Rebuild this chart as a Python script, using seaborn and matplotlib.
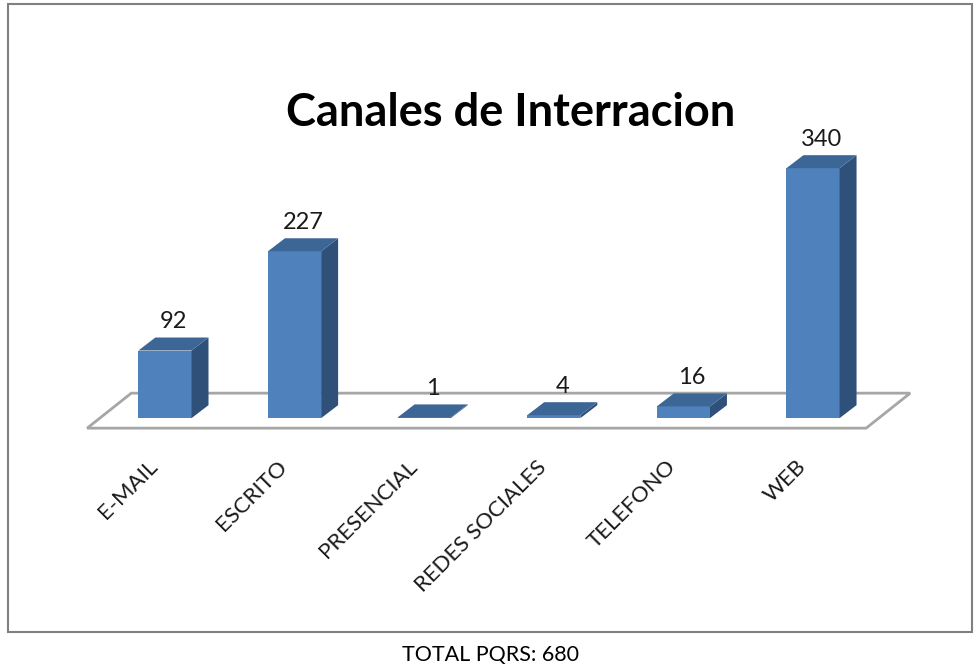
import matplotlib
matplotlib.use("Agg")
import matplotlib.pyplot as plt
from matplotlib.patches import Polygon, Rectangle
import pandas as pd
import seaborn as sns

# data
canales = ["E-MAIL", "ESCRITO", "PRESENCIAL", "REDES SOCIALES", "TELEFONO", "WEB"]
cantidades = [92, 227, 1, 4, 16, 340]
total_pqrs = 680

front_color = "#4F81BD"
top_color = "#3C6695"
side_color = "#2F5179"

sns.set_theme(style="white")
plt.rcParams["font.family"] = ["Lato", "DejaVu Sans"]

df = pd.DataFrame({"canal": canales, "cantidad": cantidades})

fig = plt.figure(figsize=(9.8, 6.68), dpi=100)
ax = fig.add_axes([0.0612, 0.341, 0.898, 0.569])

sns.barplot(data=df, x="canal", y="cantidad", color=front_color, width=0.41,
            saturation=1, ax=ax, zorder=3)

# fake 3d depth of the bars
dx, dy = 0.131, 17.7
for p in ax.patches:
    x0, w, h = p.get_x(), p.get_width(), p.get_height()
    p.set_edgecolor("none")
    top = Polygon([(x0, h), (x0 + w, h), (x0 + w + dx, h + dy), (x0 + dx, h + dy)],
                  closed=True, facecolor=top_color, edgecolor="none", zorder=3)
    side = Polygon([(x0 + w, 0), (x0 + w + dx, dy), (x0 + w + dx, h + dy), (x0 + w, h)],
                   closed=True, facecolor=side_color, edgecolor="none", zorder=3)
    ax.add_patch(side)
    ax.add_patch(top)
    ax.annotate(f"{int(h)}", (x0 + w / 2 + dx / 2, h + dy), xytext=(0, 4),
                textcoords="offset points", ha="center", va="bottom",
                fontsize=17, color="#1a1a1a")

# floor
n = len(canales)
fl, fr, fdx, fdy, fy = -0.6, n - 1 + 0.41, 0.34, 47.6, -13.6
floor = Polygon([(fl, fy), (fr, fy), (fr + fdx, fy + fdy), (fl + fdx, fy + fdy)],
                closed=True, facecolor="white", edgecolor="#a6a6a6", lw=2, zorder=1)
ax.add_patch(floor)

ax.set_xlim(-0.81, 5.98)
ax.set_ylim(-30, 487)
ax.set_xticks([])
ax.set_yticks([])
ax.set_xlabel("")
ax.set_ylabel("")
sns.despine(ax=ax, left=True, bottom=True)

for i, c in enumerate(canales):
    ax.text(i - 0.08, -62, c, rotation=45, ha="right", va="center",
            rotation_mode="anchor", fontsize=16, color="#1a1a1a")

fig.text(511 / 980, 1 - 113 / 668, "Canales de Interracion", ha="center",
         va="center", fontsize=32.5, fontweight="bold", color="black")
fig.text(490 / 980, 1 - 655 / 668, f"TOTAL PQRS: {total_pqrs}", ha="center",
         va="center", fontsize=15.5, color="black")

fig.patches.append(Rectangle((8 / 980, 1 - 632 / 668), 964 / 980, 628 / 668,
                             transform=fig.transFigure, fill=False,
                             edgecolor="#808080", lw=1.5))

fig.savefig("out.png", dpi=100)
